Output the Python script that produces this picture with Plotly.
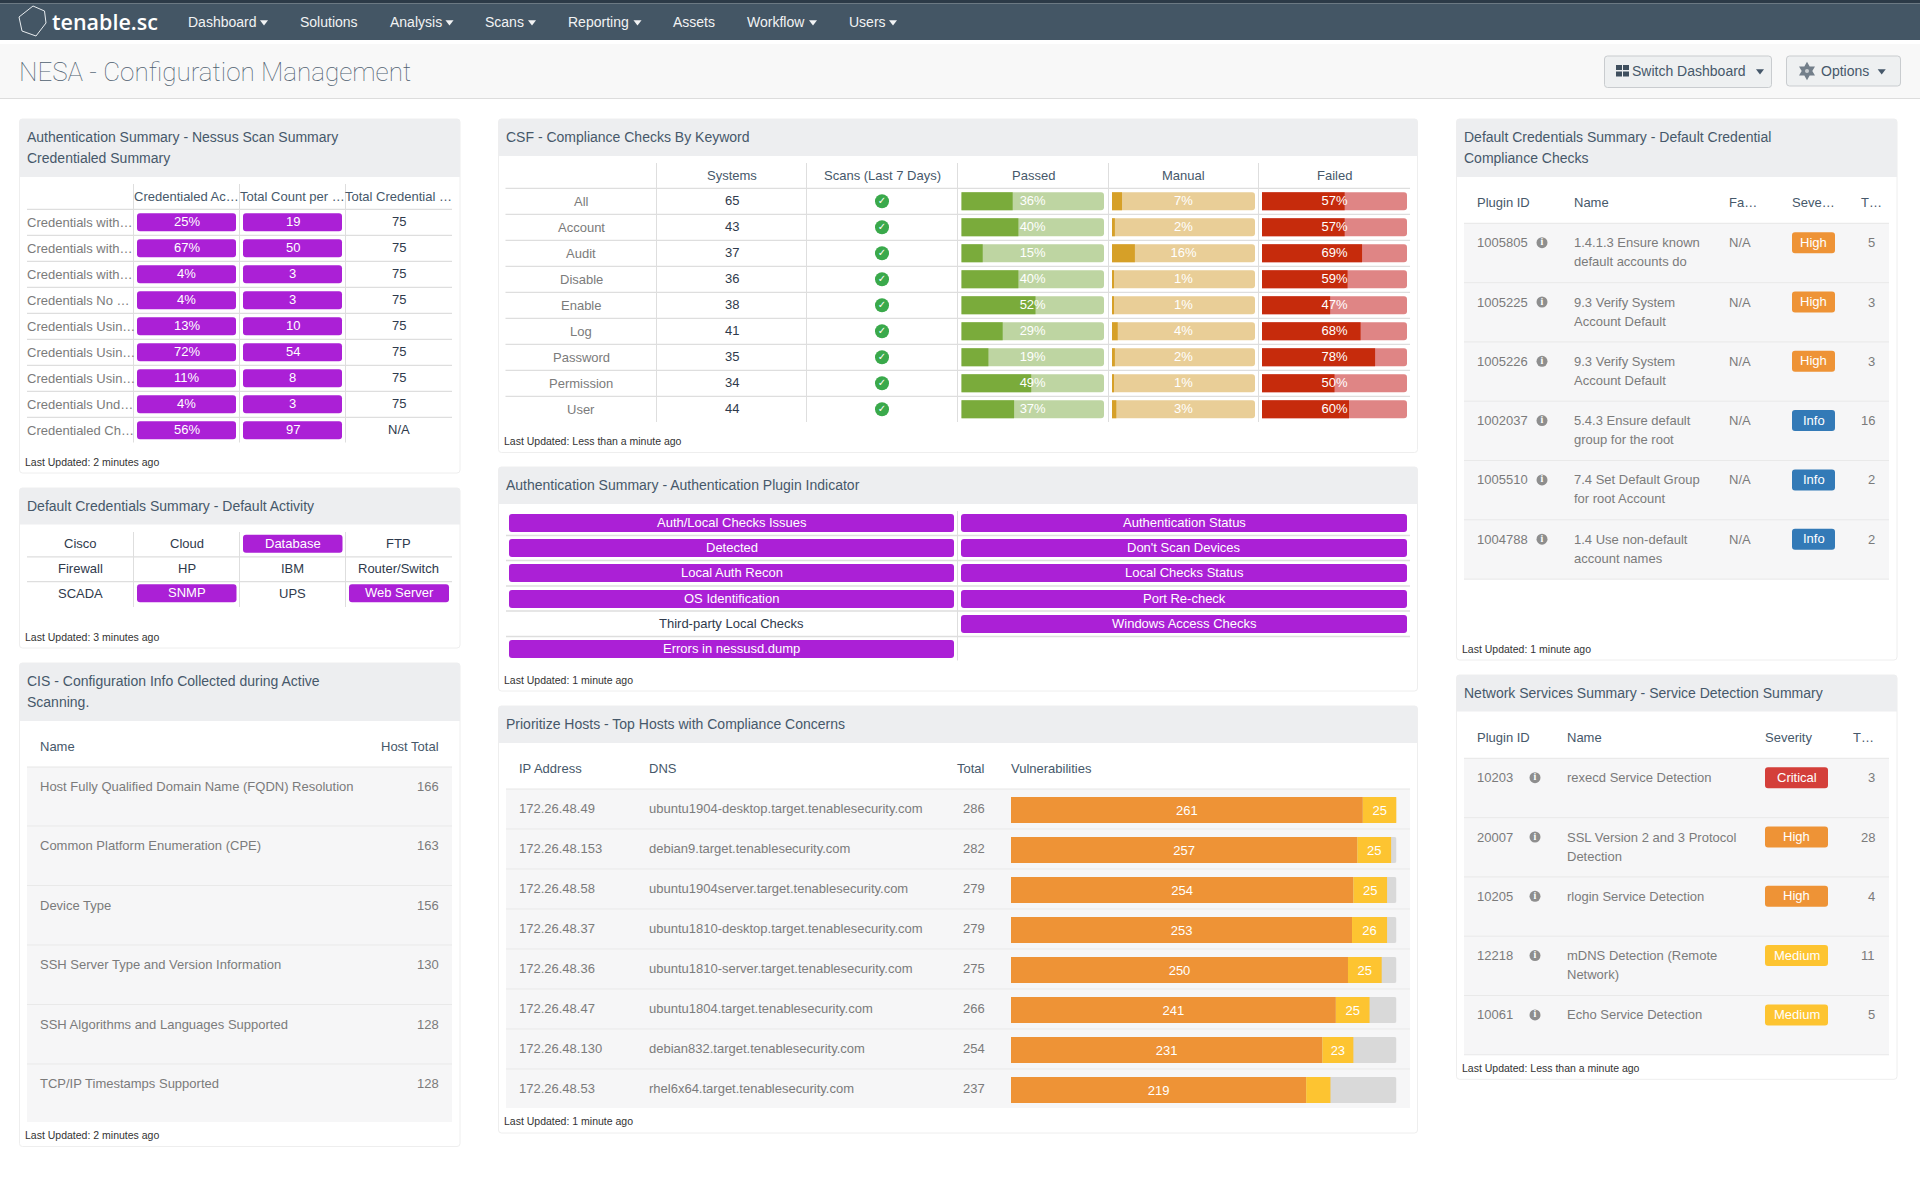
import plotly.graph_objects as go

# ---- data ----
nav_items = ["Dashboard", "Solutions", "Analysis", "Scans", "Reporting", "Assets", "Workflow", "Users"]

scan_labels = ["Credentials with…", "Credentials with…", "Credentials with…", "Credentials No …",
               "Credentials Usin…", "Credentials Usin…", "Credentials Usin…", "Credentials Und…",
               "Credentialed Ch…"]
scan_heads = ["Credentialed Ac…", "Total Count per …", "Total Credential …"]
scan_pct = ["25%", "67%", "4%", "4%", "13%", "72%", "11%", "4%", "56%"]
scan_count = [19, 50, 3, 3, 10, 54, 8, 3, 97]
scan_total = ["75", "75", "75", "75", "75", "75", "75", "75", "N/A"]

activity_names = ["Cisco", "Cloud", "Database", "FTP",
                  "Firewall", "HP", "IBM", "Router/Switch",
                  "SCADA", "SNMP", "UPS", "Web Server"]
activity_on = ["Database", "SNMP", "Web Server"]

cis_names = ["Host Fully Qualified Domain Name (FQDN) Resolution", "Common Platform Enumeration (CPE)",
             "Device Type", "SSH Server Type and Version Information",
             "SSH Algorithms and Languages Supported", "TCP/IP Timestamps Supported"]
cis_totals = [166, 163, 156, 130, 128, 128]

keywords = ["All", "Account", "Audit", "Disable", "Enable", "Log", "Password", "Permission", "User"]
csf_heads = ["Systems", "Scans (Last 7 Days)", "Passed", "Manual", "Failed"]
systems = [65, 43, 37, 36, 38, 41, 35, 34, 44]
passed = [36, 40, 15, 40, 52, 29, 19, 49, 37]
manual = [7, 2, 16, 1, 1, 4, 2, 1, 3]
failed = [57, 57, 69, 59, 47, 68, 78, 50, 60]

auth_plugins = ["Auth/Local Checks Issues", "Authentication Status", "Detected", "Don't Scan Devices",
                "Local Auth Recon", "Local Checks Status", "OS Identification", "Port Re-check",
                "Third-party Local Checks", "Windows Access Checks", "Errors in nessusd.dump"]
auth_off = ["Third-party Local Checks"]

host_ips = ["172.26.48.49", "172.26.48.153", "172.26.48.58", "172.26.48.37",
            "172.26.48.36", "172.26.48.47", "172.26.48.130", "172.26.48.53"]
host_dns = ["ubuntu1904-desktop.target.tenablesecurity.com", "debian9.target.tenablesecurity.com",
            "ubuntu1904server.target.tenablesecurity.com", "ubuntu1810-desktop.target.tenablesecurity.com",
            "ubuntu1810-server.target.tenablesecurity.com", "ubuntu1804.target.tenablesecurity.com",
            "debian832.target.tenablesecurity.com", "rhel6x64.target.tenablesecurity.com"]
host_total = [286, 282, 279, 279, 275, 266, 254, 237]
host_high = [261, 257, 254, 253, 250, 241, 231, 219]
host_medium = [25, 25, 25, 26, 25, 25, 23, 18]

dc_ids = [1005805, 1005225, 1005226, 1002037, 1005510, 1004788]
dc_names = ["1.4.1.3 Ensure known<br>default accounts do", "9.3 Verify System<br>Account Default",
            "9.3 Verify System<br>Account Default", "5.4.3 Ensure default<br>group for the root",
            "7.4 Set Default Group<br>for root Account", "1.4 Use non-default<br>account names"]
dc_severity = ["High", "High", "High", "Info", "Info", "Info"]
dc_totals = [5, 3, 3, 16, 2, 2]

ns_ids = [10203, 20007, 10205, 12218, 10061]
ns_names = ["rexecd Service Detection", "SSL Version 2 and 3 Protocol<br>Detection", "rlogin Service Detection",
            "mDNS Detection (Remote<br>Network)", "Echo Service Detection"]
ns_severity = ["Critical", "High", "High", "Medium", "Medium"]
ns_totals = [3, 28, 4, 11, 5]

# ---- styles ----
FONT = "Liberation Sans"
PURPLE = "#ab20d6"
HEAD = "#46586a"
DARK = "#2f3a4c"
GRAY = "#7b7b7b"
LINE = "#dedede"
BAND = "#f6f6f7"
SEV = {"Critical": "#d43f3a", "High": "#ee9336", "Medium": "#fdc431", "Info": "#337ab7"}

shapes = []
notes = []
traces = []


def label(x, y, text, size=13, color=GRAY, anchor="left", **font):
    notes.append(dict(x=x, y=y, xref="x", yref="y", text=str(text), showarrow=False, xanchor=anchor,
                      yanchor="middle", borderpad=0, borderwidth=0,
                      font=dict(family=font.pop("family", FONT), size=size, color=color, **font)))


def rect(x0, y0, x1, y1, fill, line=None):
    shapes.append(dict(type="rect", x0=x0, y0=y0, x1=x1, y1=y1, xref="x", yref="y", layer="below",
                       fillcolor=fill, line=dict(color=line or fill, width=1 if line else 0)))


def seg(x0, y0, x1, y1, color=LINE, width=1):
    shapes.append(dict(type="line", x0=x0, y0=y0, x1=x1, y1=y1, xref="x", yref="y", layer="below",
                       line=dict(color=color, width=width)))


def round_box(x0, y0, x1, y1, r, fill, line=None, top_only=False):
    r2 = 0 if top_only else r
    path = (f"M{x0+r},{y0} L{x1-r},{y0} Q{x1},{y0} {x1},{y0+r} L{x1},{y1-r2} Q{x1},{y1} {x1-r2},{y1} "
            f"L{x0+r2},{y1} Q{x0},{y1} {x0},{y1-r2} L{x0},{y0+r} Q{x0},{y0} {x0+r},{y0} Z")
    shapes.append(dict(type="path", path=path, xref="x", yref="y", layer="below", fillcolor=fill,
                       line=dict(color=line or fill, width=1 if line else 0)))


def panel(x0, x1, y0, head_bottom, y1, title_lines, updated, updated_y):
    round_box(x0, y0, x1, y1, 3, "white", "#eeeeee")
    round_box(x0, y0, x1, head_bottom, 3, "#edeef0", top_only=True)
    if len(title_lines) == 1:
        label(x0 + 7.2, (y0 + head_bottom) / 2 - 0.6, title_lines[0], 14, HEAD)
    else:
        label(x0 + 7.2, y0 + 18, title_lines[0], 14, HEAD)
        label(x0 + 7.2, y0 + 39, title_lines[1], 14, HEAD)
    label(x0 + 5, updated_y - 0.4, "Last Updated: " + updated, 10.5, "#333333")


def pills(x0, x1, ys, texts, colors, height=18, radius=3, size=13):
    # pill cells are bars on the page axes, so the text stays with them
    traces.append(go.Bar(orientation="h", base=x0, x=[b - a for a, b in zip(x0, x1)], y=ys, width=height,
                         marker=dict(color=colors, cornerradius=radius, line=dict(width=0)),
                         hoverinfo="skip", showlegend=False, xaxis="x", yaxis="y"))
    for a, b, y, t in zip(x0, x1, ys, texts):
        label((a + b) / 2, y - 0.5, t, size, "white", "center")


# ---- top bars ----
rect(0, 0, 1920, 3.5, "#2c3a47")
rect(0, 3.5, 1920, 40, "#445665")
rect(0, 44, 1920, 98, "#f8f8f8")
seg(0, 98.5, 1920, 98.5, "#dddddd", 1.2)

hexagon = "M19,17 L33,6 L44.5,11 L46,23 L36,36 L22,31 Z"
shapes.append(dict(type="path", path=hexagon, xref="x", yref="y", layer="below", line=dict(color="#e8ecef", width=1)))
label(51.5, 21, "tenable.sc", 21.5, "white", family="Open Sans", weight=600)

nav_x = [187.5, 299.5, 390, 485, 568, 673, 747, 849]
for x, name in zip(nav_x, nav_items):
    label(x, 22, name, 14, "#f2f3f4")
caret_x = [264, 449.5, 532, 637.5, 813, 893, 1760, 1881.7]
caret_y = [22, 22, 22, 22, 22, 22, 71, 71]
caret_c = ["#f2f3f4"] * 6 + ["#46586a"] * 2
traces.append(go.Scatter(x=caret_x, y=caret_y, mode="markers", hoverinfo="skip", showlegend=False,
                         marker=dict(symbol="triangle-down", size=7, color=caret_c, line=dict(width=0))))

label(19, 71.5, "NESA - Configuration Management", 26, "#4f6070", family="Roboto", weight=100)

round_box(1604.5, 56, 1771.5, 87.5, 3, "#eef0f1", "#c9cccf")
round_box(1786.5, 56, 1900.5, 86, 3, "#eef0f1", "#c9cccf")
for gx, gy in [(1616, 65), (1623, 65), (1616, 71.5), (1623, 71.5)]:
    rect(gx, gy, gx + 6, gy + 5, "#3f4f5e")
label(1631.5, 71, "Switch Dashboard", 14, HEAD)
# gear icon: star with a hole punched by a small circle
traces.append(go.Scatter(x=[1807, 1807], y=[71, 71], mode="markers", hoverinfo="skip", showlegend=False,
                         marker=dict(symbol=["hexagram", "circle"], size=[14, 4], color=["#3f4f5e", "#eef0f1"],
                                     line=dict(width=0))))
label(1820.5, 71, "Options", 14, HEAD)

# ---- left column: nessus scan summary ----
panel(19.5, 460, 119, 177, 473, ["Authentication Summary - Nessus Scan Summary", "Credentialed Summary"],
      "2 minutes ago", 462.5)
sc_x = [133.5, 239.5, 345.5]
for x in sc_x:
    seg(x, 184, x, 442.5)
for i, h in enumerate(scan_heads):
    label(sc_x[i] + 53, 196.5, h, 13, HEAD, "center")
sc_y = [222.3 + 26 * i for i in range(len(scan_labels))]
for i, y in enumerate(sc_y):
    seg(27, y - 13, 452, y - 13, LINE, 1.3)
    label(27, y, scan_labels[i])
    label(398.5, y - 0.5, scan_total[i], 13, DARK, "center")
pills([137] * 9, [236] * 9, sc_y, scan_pct, [PURPLE] * 9)
pills([243] * 9, [342] * 9, sc_y, scan_count, [PURPLE] * 9)

# ---- left column: default activity ----
panel(19.5, 460, 488, 524.5, 648, ["Default Credentials Summary - Default Activity"], "3 minutes ago", 637)
for x in sc_x:
    seg(x, 532, x, 607)
seg(27, 556.8, 452, 556.8, LINE, 1.3)
seg(27, 581.6, 452, 581.6, LINE, 1.3)
ac_x = [27, 133.5, 239.5, 345.5, 452]
on_x0, on_x1, on_y, on_t = [], [], [], []
for i, name in enumerate(activity_names):
    c, r = i % 4, i // 4
    y = 543.7 + 24.8 * r
    if name in activity_on:
        on_x0.append(ac_x[c] + 3.5)
        on_x1.append(ac_x[c + 1] - 3)
        on_y.append(y)
        on_t.append(name)
    else:
        label((ac_x[c] + ac_x[c + 1]) / 2, y, name, 13, DARK, "center")
pills(on_x0, on_x1, on_y, on_t, [PURPLE] * len(on_t))

# ---- left column: CIS ----
panel(19.5, 460, 663, 721, 1146.5, ["CIS - Configuration Info Collected during Active", "Scanning."],
      "2 minutes ago", 1135)
label(40.3, 746, "Name", 13, HEAD)
label(439, 746, "Host Total", 13, HEAD, "right")
rect(27, 767, 452, 1122, BAND)
seg(27, 767, 452, 767, "#e6e6e6")
for i, name in enumerate(cis_names):
    y = 786 + 59.5 * i
    if i:
        seg(27, y - 19.5, 452, y - 19.5, "#e9e9e9")
    label(40.3, y + 0.4, name)
    label(439, y, cis_totals[i], 13, GRAY, "right")

# ---- centre: CSF table ----
panel(498.5, 1417.5, 119, 156, 452.5, ["CSF - Compliance Checks By Keyword"], "Less than a minute ago", 441.5)
csf_x = [656.5, 806.5, 957.5, 1108.5, 1258.5]
csf_cx = [731.5, 882, 1033, 1183.5, 1334.5]
for x in csf_x:
    seg(x, 163, x, 422)
for cx, h in zip(csf_cx, csf_heads):
    label(cx, 175.8, h, 13, HEAD, "center")
csf_y = [201.3 + 26 * i for i in range(len(keywords))]
for i, y in enumerate(csf_y):
    seg(505.5, y - 13, 1410, y - 13, LINE, 1.3)
    label(581, y + 0.5, keywords[i], 13, GRAY, "center")
    label(731.5, y - 0.5, systems[i], 13, DARK, "center")
traces.append(go.Scatter(x=[882] * len(csf_y), y=csf_y, mode="markers+text", text=["✓"] * len(csf_y),
                         textposition="middle center", hoverinfo="skip", showlegend=False,
                         textfont=dict(family="DejaVu Sans", size=10, color="white", weight=700),
                         marker=dict(size=14, color="#3aa94b", line=dict(width=0))))

# passed / manual / failed bars
for axis, values, dark, light in [("x2", passed, "#7aab3b", "#bed5a2"),
                                  ("x3", manual, "#d6a028", "#e9ce97"),
                                  ("x4", failed, "#c62b0c", "#df8585")]:
    traces.append(go.Bar(orientation="h", x=[100] * len(keywords), y=keywords, width=18 / 26, xaxis=axis, yaxis="y2",
                         marker=dict(color=light, cornerradius=3, line=dict(width=0)), hoverinfo="skip", showlegend=False))
    traces.append(go.Bar(orientation="h", x=values, y=keywords, width=18 / 26, xaxis=axis, yaxis="y2",
                         marker=dict(color=dark, cornerradius=3, line=dict(width=0)), hoverinfo="skip", showlegend=False))
    traces.append(go.Scatter(x=[50] * len(keywords), y=keywords, text=[f"{v}%" for v in values], mode="text",
                             xaxis=axis, yaxis="y2", textposition="middle center", hoverinfo="skip", showlegend=False,
                             textfont=dict(family=FONT, size=13, color="white")))

# ---- centre: plugin indicator ----
panel(498.5, 1417.5, 467, 504, 691, ["Authentication Summary - Authentication Plugin Indicator"], "1 minute ago", 680.7)
seg(957.5, 511, 957.5, 660.5)
for y in [535.5, 560.5, 586, 611, 636.5]:
    seg(506, y, 1410, y, LINE, 1.3)
au_y = [523, 548, 573, 599, 624, 649]
on_x0, on_x1, on_y, on_t = [], [], [], []
for i, name in enumerate(auth_plugins):
    left = i % 2 == 0
    if name in auth_off:
        label(731.5, au_y[i // 2] - 0.5, name, 13, DARK, "center")
    else:
        on_x0.append(509 if left else 961)
        on_x1.append(954 if left else 1407)
        on_y.append(au_y[i // 2])
        on_t.append(name)
pills(on_x0, on_x1, on_y, on_t, [PURPLE] * len(on_t))

# ---- centre: hosts ----
panel(498.5, 1417.5, 706, 743, 1133, ["Prioritize Hosts - Top Hosts with Compliance Concerns"], "1 minute ago", 1121.7)
label(519.4, 768.7, "IP Address", 13, HEAD)
label(649, 768.7, "DNS", 13, HEAD)
label(984.6, 768.7, "Total", 13, HEAD, "right")
label(1011, 768.7, "Vulnerabilities", 13, HEAD)
rect(506, 789, 1410, 1108, BAND)
seg(506, 789, 1410, 789, "#e6e6e6")
for i, ip in enumerate(host_ips):
    y = 808.7 + 40 * i
    if i:
        seg(506, y - 19.7, 1410, y - 19.7, "#e9e9e9")
    label(519.4, y, ip)
    label(649, y, host_dns[i])
    label(984.6, y, host_total[i], 13, GRAY, "right")

traces.append(go.Bar(orientation="h", x=[max(host_total)] * len(host_ips), y=host_ips, width=0.65, xaxis="x5", yaxis="y3",
                     marker=dict(color="#d9d9d9", cornerradius=2, line=dict(width=0)), hoverinfo="skip", showlegend=False))
traces.append(go.Bar(orientation="h", x=host_high, y=host_ips, width=0.65, xaxis="x5", yaxis="y3",
                     text=host_high, textposition="inside", insidetextanchor="middle", textangle=0,
                     textfont=dict(family=FONT, size=13, color="white"),
                     marker=dict(color="#ee9336", cornerradius=2, line=dict(width=0)), hoverinfo="skip", showlegend=False))
traces.append(go.Bar(orientation="h", base=host_high, x=host_medium, y=host_ips, width=0.65, xaxis="x5", yaxis="y3",
                     text=[str(m) if m > 20 else "" for m in host_medium], textposition="inside",
                     insidetextanchor="middle", textangle=0, textfont=dict(family=FONT, size=13, color="white"),
                     marker=dict(color="#fdc431", line=dict(width=0)), hoverinfo="skip", showlegend=False))


# ---- right column: plugin tables ----
def plugin_table(name_x, head_y, sep_y, row_h, end_y, heads, ids, names, sevs, totals, icon_x, pill_x0, pill_x1):
    for hx, h in heads:
        label(hx, head_y, h, 13, HEAD)
    rect(1464, sep_y, 1889, end_y, BAND)
    seg(1464, sep_y, 1889, sep_y, "#e6e6e6")
    ys = [sep_y + 19.4 + row_h * i for i in range(len(ids))]
    for i, y in enumerate(ys):
        seg(1464, sep_y + row_h * (i + 1), 1889, sep_y + row_h * (i + 1), "#e9e9e9")
        label(1476.7, y, ids[i])
        for j, part in enumerate(names[i].split("<br>")):
            label(name_x, y + 19 * j, part)
        label(1875, y, totals[i], 13, GRAY, "right")
    traces.append(go.Scatter(x=[icon_x] * len(ys), y=ys, mode="markers+text", text=["i"] * len(ys),
                             textposition="middle center", hoverinfo="skip", showlegend=False,
                             textfont=dict(family="Liberation Serif", size=10, color="white", weight=700),
                             marker=dict(size=11, color="#8e8e8e", line=dict(width=0))))
    pills([pill_x0] * len(ys), [pill_x1] * len(ys), ys, sevs, [SEV[s] for s in sevs], height=21)


panel(1456.5, 1897, 119, 177, 660, ["Default Credentials Summary - Default Credential", "Compliance Checks"],
      "1 minute ago", 649.3)
plugin_table(1573.7, 202.3, 223.3, 59.3, 579.7,
             [(1476.7, "Plugin ID"), (1573.7, "Name"), (1728.7, "Fa…"), (1791.7, "Seve…"), (1860.7, "T…")],
             dc_ids, dc_names, dc_severity, dc_totals, 1542, 1792, 1835)
for i in range(len(dc_ids)):
    label(1728.7, 242.7 + 59.3 * i, "N/A")

panel(1456.5, 1897, 675, 711.5, 1079.3, ["Network Services Summary - Service Detection Summary"],
      "Less than a minute ago", 1068.3)
plugin_table(1566.7, 737.3, 758.3, 59.3, 1055,
             [(1476.7, "Plugin ID"), (1566.7, "Name"), (1764.7, "Severity"), (1853.3, "T…")],
             ns_ids, ns_names, ns_severity, ns_totals, 1535, 1765, 1828)


def hidden(**kw):
    return dict(visible=False, fixedrange=True, **kw)


W, H = 1920.0, 1188.0
layout = dict(
    width=1920, height=1188, margin=dict(l=0, r=0, t=0, b=0), paper_bgcolor="white", plot_bgcolor="rgba(0,0,0,0)",
    barmode="overlay", showlegend=False, shapes=shapes, annotations=notes,
    xaxis=hidden(range=[0, 1920], domain=[0, 1]),
    yaxis=hidden(range=[1188, 0], domain=[0, 1]),
    xaxis2=hidden(range=[0, 100], domain=[961.3 / W, 1104 / W], anchor="y2"),
    xaxis3=hidden(range=[0, 100], domain=[1112 / W, 1255 / W], anchor="y2"),
    xaxis4=hidden(range=[0, 100], domain=[1262 / W, 1407 / W], anchor="y2"),
    xaxis5=hidden(range=[0, max(host_total)], domain=[1011 / W, 1396.5 / W], anchor="y3"),
    yaxis2=hidden(range=[len(keywords) - 0.5, -0.5], domain=[1 - 422.3 / H, 1 - 188.3 / H], anchor="x2", type="category"),
    yaxis3=hidden(range=[len(host_ips) - 0.5, -0.5], domain=[1 - 1110 / H, 1 - 790 / H], anchor="x5", type="category"),
)

fig = go.Figure(data=traces, layout=layout)
fig.write_html("out.html", config=dict(displayModeBar=False),
               post_script="document.body.style.margin='0';document.body.style.overflow='hidden';")
